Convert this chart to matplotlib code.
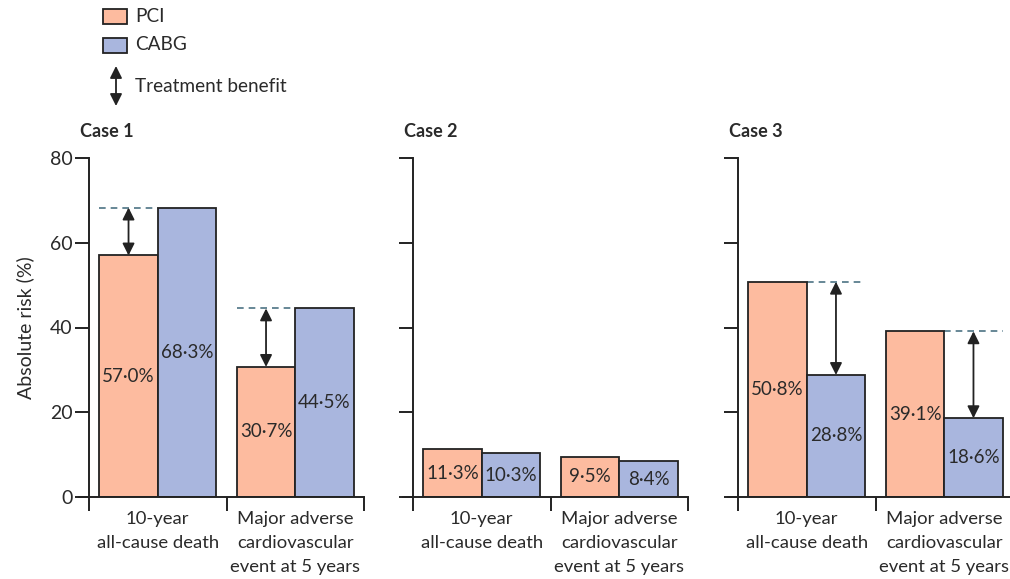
import matplotlib.pyplot as plt
from matplotlib.patches import Rectangle

# data
cases = ["Case 1", "Case 2", "Case 3"]
outcomes = ["10-year\nall-cause death", "Major adverse\ncardiovascular\nevent at 5 years"]
pci = [[57.0, 30.7], [11.3, 9.5], [50.8, 39.1]]
cabg = [[68.3, 44.5], [10.3, 8.4], [28.8, 18.6]]
show_benefit = [True, False, True]
yticks = [0, 20, 40, 60, 80]

PCI_COLOR = "#fdbb9f"
CABG_COLOR = "#a9b6de"
EDGE = "#222222"
DASH = "#4d7384"
TXT = "#2a2a2a"

plt.rcParams["font.family"] = ["Lato", "DejaVu Sans"]
fig = plt.figure(figsize=(10.1, 5.79), dpi=100)

W, H = 1010, 579
spine_px = [89, 413, 738]
bottom_px, top_px = 497, 158
grp_px = 137.5
x0 = -0.07
bw = 0.425


def fmt(v):
    return f"{v:.1f}%".replace(".", "\u00b7")


for i, case in enumerate(cases):
    left = (spine_px[i] + x0 * grp_px) / W
    width = (2 - x0) * grp_px / W
    ax = fig.add_axes([left, 1 - bottom_px / H, width, (bottom_px - top_px) / H])
    ax.set_xlim(x0, 2)
    ax.set_ylim(0, 80)

    for g in range(2):
        xp = g + 0.5 - bw / 2
        xc = g + 0.5 + bw / 2
        p, c = pci[i][g], cabg[i][g]
        ax.bar(xp, p, bw, color=PCI_COLOR, edgecolor=EDGE, linewidth=1.3, zorder=2)
        ax.bar(xc, c, bw, color=CABG_COLOR, edgecolor=EDGE, linewidth=1.3, zorder=2)
        ax.text(xp, p / 2, fmt(p), ha="center", va="center", fontsize=13.5, color=TXT, zorder=3)
        ax.text(xc, c / 2, fmt(c), ha="center", va="center", fontsize=13.5, color=TXT, zorder=3)

        if show_benefit[i]:
            # arrow sits on the lower bar, dashed line marks the higher value
            if p < c:
                xa, lo, hi = xp, p, c
            else:
                xa, lo, hi = xc, c, p
            ax.plot([xa - bw / 2, xa + bw / 2], [hi, hi], ls=(0, (4, 3)), color=DASH, lw=1.2, zorder=1)
            ax.annotate("", xy=(xa, hi), xytext=(xa, lo),
                        arrowprops=dict(arrowstyle="<|-|>", color=EDGE, lw=1.3,
                                        mutation_scale=18, shrinkA=0, shrinkB=0),
                        zorder=4)

    for s in ["top", "right"]:
        ax.spines[s].set_visible(False)
    ax.spines["left"].set_position(("data", 0))
    for s in ["left", "bottom"]:
        ax.spines[s].set_linewidth(1.4)
        ax.spines[s].set_color(EDGE)

    ax.set_yticks(yticks)
    ax.tick_params(axis="y", length=10, width=1.4, color=EDGE, labelsize=14, labelcolor=TXT, pad=2)
    if i > 0:
        ax.set_yticklabels([])
    else:
        ax.set_ylabel("Absolute risk (%)", fontsize=14, color=TXT, labelpad=11)

    ax.set_xticks([0, 1, 2])
    ax.set_xticklabels([])
    ax.tick_params(axis="x", which="major", length=10, width=1.4, color=EDGE)
    ax.set_xticks([0.5, 1.5], outcomes, minor=True)
    ax.tick_params(axis="x", which="minor", length=0, labelsize=13.3, labelcolor=TXT, pad=10)
    for lab in ax.get_xticklabels(minor=True):
        lab.set_linespacing(1.62)

    fig.text((spine_px[i] - 9) / W, 1 - 131 / H, case, fontsize=13, fontweight="bold",
             color=TXT, ha="left", va="center")

# legend
for yc, col, lab in [(16, PCI_COLOR, "PCI"), (45, CABG_COLOR, "CABG")]:
    fig.add_artist(Rectangle((103 / W, 1 - (yc + 7.5) / H), 24 / W, 15 / H,
                             transform=fig.transFigure, facecolor=col, edgecolor=EDGE, lw=1.3))
    fig.text(135 / W, 1 - yc / H, lab, fontsize=13.7, color=TXT, ha="left", va="center")
fig.add_artist(plt.Annotation("", xy=(116 / W, 1 - 66 / H), xytext=(116 / W, 1 - 106 / H),
                              xycoords="figure fraction", textcoords="figure fraction",
                              arrowprops=dict(arrowstyle="<|-|>", color=EDGE, lw=1.3,
                                              mutation_scale=18, shrinkA=0, shrinkB=0)))
fig.text(135 / W, 1 - 86 / H, "Treatment benefit", fontsize=13.7, color=TXT, ha="left", va="center")

fig.savefig("out.png", dpi=100)
